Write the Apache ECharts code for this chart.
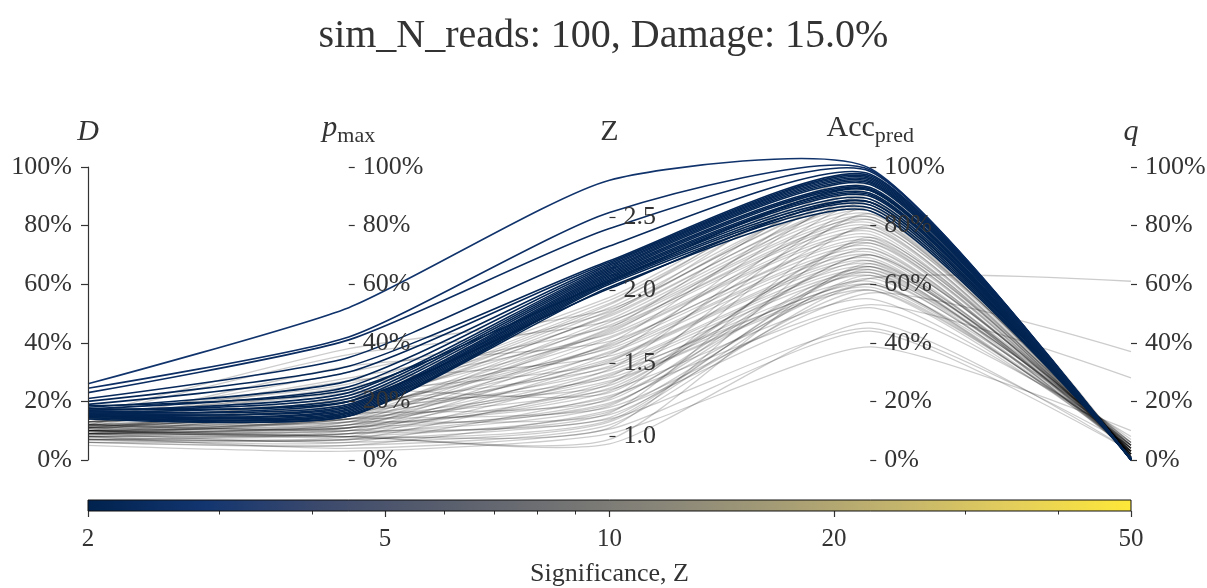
<!DOCTYPE html>
<html><head><meta charset="utf-8">
<script src="https://cdn.jsdelivr.net/npm/echarts@6/dist/echarts.min.js"></script>
<style>html,body{margin:0;padding:0;background:#fff}#c{width:1207px;height:588px}</style>
</head><body><div id="c"></div>
<script>
// ---- axis / tick definitions ----
const dimNames = ['D', 'p_max', 'Z', 'Acc_pred', 'q'];
const pctTicks = [0, 0.2, 0.4, 0.6, 0.8, 1];
const zTicks = [1.0, 1.5, 2.0, 2.5];
const zRange = [0.84, 2.84];
const cbTicks = [2, 5, 10, 20, 50];
const cbMinorTicks = [3, 4, 6, 7, 8, 9, 30, 40];
const cbRange = [2, 50];

// ---- significant fits (Z >= 2) ----
const sigD   = [0.26,0.245,0.23,0.21,0.20,0.19,0.18,0.175,0.17,0.17,0.165,0.16,0.165,0.155,0.16,0.15,0.155,0.15,0.145,0.15,0.145,0.14,0.175,0.185];
const sigP   = [0.52,0.42,0.41,0.35,0.32,0.30,0.27,0.25,0.23,0.22,0.21,0.20,0.19,0.185,0.18,0.175,0.17,0.165,0.16,0.155,0.15,0.15,0.20,0.24];
const sigZ   = [2.75,2.53,2.42,2.30,2.20,2.19,2.18,2.17,2.16,2.15,2.14,2.13,2.12,2.11,2.10,2.09,2.08,2.07,2.06,2.05,2.04,2.02,2.01,2.06];
const sigAcc = [0.995,0.99,0.985,0.975,0.97,0.965,0.96,0.955,0.95,0.945,0.94,0.93,0.925,0.92,0.91,0.905,0.90,0.89,0.88,0.87,0.86,0.85,0.88,0.92];
const sigQ   = [0.0,0.0,0.0,0.001,0.002,0.0,0.001,0.002,0.0,0.003,0.001,0.002,0.004,0.0,0.003,0.005,0.002,0.004,0.006,0.003,0.005,0.007,0.004,0.002];

// ---- non-significant fits (Z < 2) ----
const nsD   = [0.17,0.16,0.15,0.14,0.13,0.155,0.12,0.14,0.11,0.13,0.12,0.15,0.10,0.11,0.13,0.12,0.09,0.14,0.10,0.11,0.12,0.09,0.13,0.10,0.08,0.115,0.12,0.09,0.10,0.14,0.085,0.11,0.10,0.07,0.12,0.09,0.11,0.08,0.13,0.10,0.09,0.115,0.07,0.10,0.12,0.08,0.09,0.11,0.06,0.10,0.085,0.12,0.07,0.09,0.06,0.08,0.05,0.10,0.10,0.13,0.12,0.11,0.10,0.09,0.10,0.08,0.09,0.07,0.125,0.105,0.095,0.115,0.08,0.07,0.06];
const nsP   = [0.26,0.24,0.22,0.21,0.20,0.38,0.19,0.30,0.18,0.22,0.16,0.36,0.15,0.20,0.28,0.14,0.13,0.25,0.17,0.12,0.32,0.11,0.18,0.21,0.10,0.16,0.27,0.14,0.09,0.23,0.12,0.19,0.15,0.08,0.11,0.17,0.13,0.07,0.20,0.10,0.14,0.24,0.06,0.12,0.16,0.09,0.11,0.14,0.05,0.08,0.13,0.10,0.07,0.06,0.05,0.04,0.03,0.08,0.08,0.19,0.17,0.15,0.13,0.12,0.11,0.10,0.09,0.08,0.21,0.18,0.14,0.16,0.11,0.09,0.07];
const nsZ   = [1.95,1.93,1.91,1.90,1.88,1.87,1.86,1.85,1.83,1.82,1.80,1.79,1.78,1.76,1.75,1.73,1.72,1.70,1.68,1.67,1.65,1.63,1.62,1.60,1.58,1.57,1.55,1.53,1.52,1.50,1.48,1.47,1.45,1.43,1.42,1.40,1.38,1.37,1.35,1.33,1.32,1.30,1.28,1.27,1.25,1.23,1.22,1.20,1.18,1.17,1.15,1.13,1.12,1.10,1.08,1.05,1.02,0.98,0.95,1.84,1.74,1.64,1.56,1.46,1.36,1.26,1.16,1.06,1.71,1.61,1.41,1.51,1.31,1.21,1.11];
const nsAcc = [0.95,0.93,0.92,0.96,0.90,0.89,0.88,0.91,0.86,0.87,0.85,0.83,0.84,0.82,0.80,0.81,0.79,0.78,0.77,0.76,0.75,0.74,0.73,0.72,0.71,0.70,0.69,0.68,0.67,0.66,0.65,0.64,0.63,0.62,0.61,0.60,0.59,0.58,0.72,0.68,0.55,0.75,0.53,0.64,0.70,0.60,0.66,0.57,0.52,0.62,0.58,0.65,0.45,0.63,0.60,0.44,0.386,0.67,0.47,0.96,0.94,0.92,0.90,0.88,0.86,0.84,0.80,0.76,0.88,0.83,0.79,0.82,0.74,0.70,0.66];
const nsQ   = [0.005,0.01,0.005,0.01,0.01,0.005,0.01,0.01,0.02,0.01,0.01,0.01,0.015,0.02,0.01,0.02,0.02,0.01,0.02,0.03,0.02,0.03,0.02,0.03,0.04,0.02,0.03,0.03,0.04,0.02,0.05,0.03,0.04,0.61,0.03,0.04,0.05,0.04,0.03,0.05,0.06,0.04,0.28,0.06,0.05,0.07,0.06,0.37,0.08,0.05,0.05,0.04,0.05,0.06,0.04,0.03,0.10,0.02,0.03,0.005,0.01,0.01,0.01,0.02,0.02,0.02,0.03,0.03,0.01,0.02,0.02,0.01,0.03,0.04,0.05];

// ---- cividis colormap stops ----
const cividis = ['#00224e','#123570','#3b496c','#575d6d','#707173','#8a8779','#a69d75','#c4b56c','#e4cf5b','#fee838'];

function hexToRgb(h){return [parseInt(h.slice(1,3),16),parseInt(h.slice(3,5),16),parseInt(h.slice(5,7),16)];}
function cividisAt(t){
  t = Math.max(0, Math.min(1, t));
  const n = cividis.length - 1, f = t * n, i = Math.min(Math.floor(f), n - 1), r = f - i;
  const a = hexToRgb(cividis[i]), b = hexToRgb(cividis[i+1]);
  return 'rgb(' + a.map((v,k)=>Math.round(v + (b[k]-v)*r)).join(',') + ')';
}
function colorForZ(z){ return cividisAt(Math.log(z/cbRange[0]) / Math.log(cbRange[1]/cbRange[0])); }

const sigRows = sigD.map((d,i)=>[d, sigP[i], sigZ[i], sigAcc[i], sigQ[i]]);
const nsRows = nsD.map((d,i)=>[d, nsP[i], nsZ[i], nsAcc[i], nsQ[i]]);

const FONT = 'Liberation Serif';
const TXT = '#333';
const pctFmt = v => Math.round(v*100) + '%';

const nameRich = {
  it: {fontFamily: FONT, fontStyle: 'italic', fontSize: 30, color: TXT},
  rm: {fontFamily: FONT, fontSize: 30, color: TXT},
  sub: {fontFamily: FONT, fontSize: 22, color: TXT, padding: [15, 0, 0, 0]}
};
const nameStyle = {fontFamily: FONT, fontSize: 30, color: TXT, align: 'center', verticalAlign: 'bottom', rich: nameRich};

function pctAxis(dim, name, left){
  return {
    dim: dim, name: name, min: 0, max: 1, interval: 0.2,
    nameLocation: 'end', nameGap: 20, nameTextStyle: nameStyle,
    axisLine: {show: left, lineStyle: {color: TXT, width: 1.2}},
    axisTick: {show: true, length: left ? -7 : 6, lineStyle: {color: TXT, width: 1.2}},
    axisLabel: {formatter: pctFmt, fontFamily: FONT, fontSize: 26, color: TXT,
      margin: left ? -16 : 14, align: left ? 'right' : 'left', verticalAlign: 'middle'}
  };
}

const stops = cividis.map((c,i)=>({offset: i/(cividis.length-1), color: c}));

const option = {
  animation: false,
  backgroundColor: '#fff',
  title: {text: 'sim_N_reads: 100, Damage: 15.0%', left: 'center', top: 11,
    textStyle: {fontFamily: FONT, fontWeight: 'normal', fontSize: 40, color: TXT}},
  parallel: {left: 88, right: 76, top: 167, bottom: 128, layout: 'horizontal'},
  parallelAxis: [
    pctAxis(0, '{it|D}', true),
    pctAxis(1, '{it|p}{sub|max}', false),
    {dim: 2, name: '{rm|Z}', min: zRange[0], max: zRange[1],
      nameLocation: 'end', nameGap: 20, nameTextStyle: nameStyle,
      axisLine: {show: false},
      axisTick: {show: true, length: 6, customValues: zTicks, lineStyle: {color: TXT, width: 1.2}},
      axisLabel: {customValues: zTicks, formatter: v => Number(v).toFixed(1), fontFamily: FONT, fontSize: 26, color: TXT, margin: 14}},
    pctAxis(3, '{rm|Acc}{sub|pred}', false),
    pctAxis(4, '{it|q}', false)
  ],
  grid: {left: 88, right: 76, top: 500, height: 14},
  xAxis: [
    {type: 'log', min: cbRange[0], max: cbRange[1], gridIndex: 0, position: 'bottom',
      axisLine: {show: false}, splitLine: {show: false},
      axisTick: {show: true, customValues: cbTicks, length: 6, lineStyle: {color: TXT, width: 1.2}},
      axisLabel: {customValues: cbTicks, formatter: v => String(Math.round(v)), fontFamily: FONT, fontSize: 25, color: TXT, margin: 16},
      name: 'Significance, Z', nameLocation: 'middle', nameGap: 50,
      nameTextStyle: {fontFamily: FONT, fontSize: 26, color: TXT}},
    {type: 'log', min: cbRange[0], max: cbRange[1], gridIndex: 0, position: 'bottom',
      axisLine: {show: false}, splitLine: {show: false},
      axisTick: {show: true, customValues: cbMinorTicks, length: 3.5, lineStyle: {color: TXT, width: 1}},
      axisLabel: {show: false}}
  ],
  yAxis: [{type: 'value', min: 0, max: 1, gridIndex: 0, show: false}],
  series: [
    {type: 'custom', xAxisIndex: 0, yAxisIndex: 0, silent: true,
      data: [[cbRange[0], cbRange[1]]], encode: {x: [0, 1]},
      renderItem: function(params, api){
        const p0 = api.coord([api.value(0), 0]);
        const p1 = api.coord([api.value(1), 1]);
        return {type: 'rect',
          shape: {x: p0[0], y: p1[1], width: p1[0]-p0[0], height: p0[1]-p1[1]},
          style: {fill: new echarts.graphic.LinearGradient(0, 0, 1, 0, stops), stroke: '#111', lineWidth: 1}};
      }},
    {type: 'parallel', smooth: 0.2, silent: true,
      lineStyle: {color: '#000', width: 1.3, opacity: 0.2},
      data: nsRows},
    {type: 'parallel', smooth: 0.2, silent: true,
      lineStyle: {width: 1.6, opacity: 1},
      data: sigRows.map(r => ({value: r, lineStyle: {color: colorForZ(r[2]), opacity: 1}}))}
  ]
};

const chart = echarts.init(document.getElementById('c'), null, {renderer: 'canvas'});
chart.setOption(option);
</script>
</body></html>
